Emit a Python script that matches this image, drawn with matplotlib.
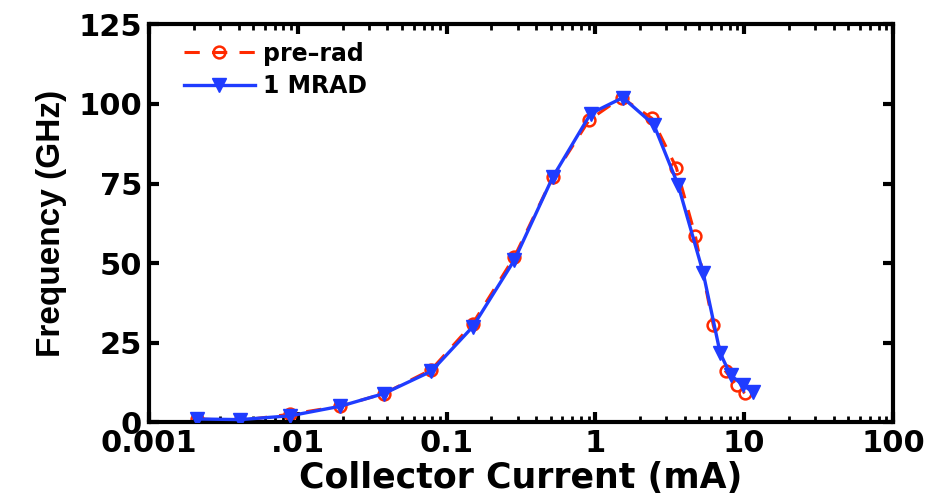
import matplotlib
matplotlib.use("Agg")
import matplotlib.pyplot as plt
from matplotlib.ticker import FixedLocator, LogLocator, NullFormatter

# the scanned figure is stretched sideways, so the wider DejaVu bold
# is used for horizontal text and Liberation bold for the rotated label
plt.rcParams['font.family'] = ['DejaVu Sans']
plt.rcParams['font.weight'] = 'bold'

# pre-rad measurement (collector current in mA, fT in GHz)
pre_ic = [0.0021, 0.0041, 0.0089, 0.0193, 0.038, 0.079, 0.15, 0.286, 0.517,
          0.91, 1.5, 2.4, 3.5, 4.7, 6.2, 7.5, 8.9, 10.1]
pre_ft = [1, 0.5, 2.5, 5, 9, 16.5, 31, 52, 77, 95, 102, 95.5, 80, 58.5, 30.5,
          16, 11.6, 9.1]

# after 1 MRAD
rad_ic = [0.0021, 0.0041, 0.0089, 0.0193, 0.038, 0.079, 0.15, 0.286, 0.517,
          0.93, 1.53, 2.47, 3.6, 5.3, 6.9, 8.1, 9.85, 11.5]
rad_ft = [1, 0.8, 2, 5, 9, 16, 30, 51, 77, 97, 102, 93.5, 74.5, 47, 21.7,
          14.8, 11.6, 9.4]

xticks = [0.001, 0.01, 0.1, 1, 10, 100]
xtick_labels = ['0.001', '.01', '0.1', '1', '10', '100']
yticks = [0, 25, 50, 75, 100, 125]

fig = plt.figure(figsize=(9.37, 4.99), dpi=100)
ax = fig.add_axes([0.159, 0.154, 0.794, 0.797])

ax.plot(pre_ic, pre_ft, color='#ff2a00', linestyle=(0, (5, 4)), linewidth=2.2,
        marker='o', markersize=8.5, markerfacecolor='none', markeredgewidth=1.8,
        label='pre\u2013rad', zorder=2)
ax.plot(rad_ic, rad_ft, color='#1f3cff', linestyle='-', linewidth=2.4,
        marker='v', markersize=10, markerfacecolor='#1f3cff',
        markeredgecolor='#1f3cff', label='1 MRAD', zorder=3)

ax.set_xscale('log')
ax.set_xlim(0.001, 100)
ax.set_ylim(0, 125)
ax.xaxis.set_major_locator(FixedLocator(xticks))
ax.set_xticklabels(xtick_labels)
ax.xaxis.set_minor_locator(LogLocator(base=10, subs=range(2, 10)))
ax.xaxis.set_minor_formatter(NullFormatter())
ax.set_yticks(yticks)

for s in ax.spines.values():
    s.set_linewidth(3)
ax.tick_params(which='major', direction='in', length=7, width=3,
               labelsize=22, top=True, right=True, pad=5)
ax.tick_params(which='minor', direction='in', length=4, width=2,
               top=True, right=True)

ax.set_xlabel('Collector Current (mA)', fontsize=25, fontweight='bold', labelpad=2)
ax.set_ylabel('Frequency (GHz)', fontsize=24, fontweight='bold', labelpad=8,
              family=['Liberation Sans', 'DejaVu Sans'])

ax.legend(loc='upper left', bbox_to_anchor=(0.012, 1.022), frameon=False,
          fontsize=17, handlelength=3.0, borderaxespad=0.7, labelspacing=0.35,
          handletextpad=0.35)

fig.savefig('out.png', dpi=100)
